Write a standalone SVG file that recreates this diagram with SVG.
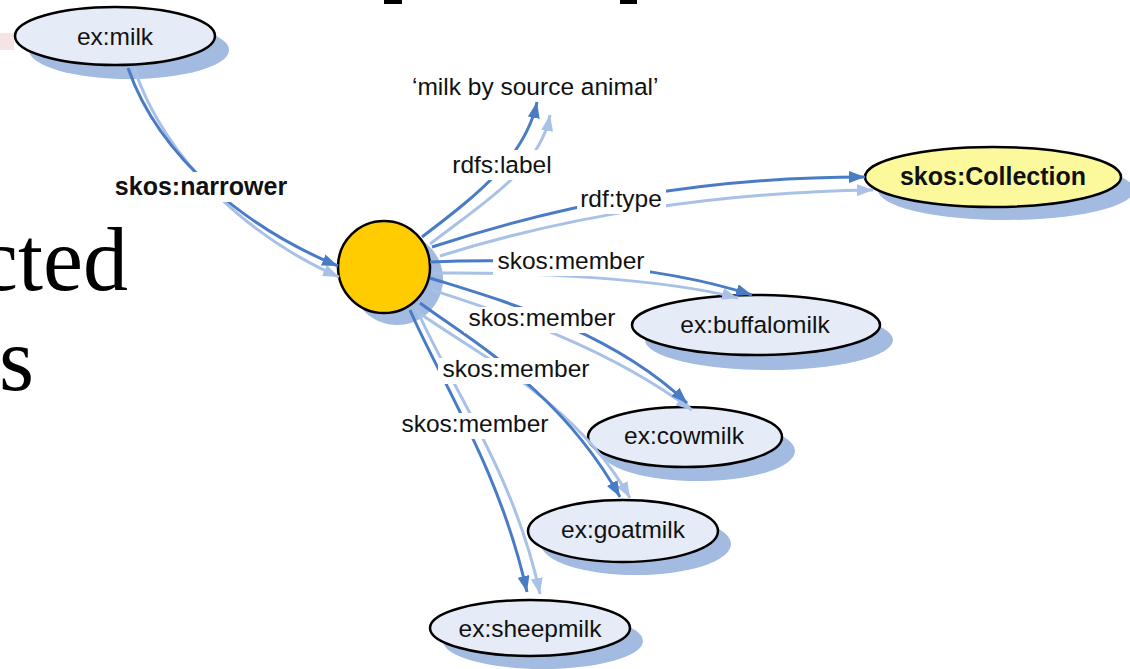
<svg xmlns="http://www.w3.org/2000/svg" width="1130" height="669" viewBox="0 0 1130 669">
<style>
.shadow{fill:#a3bbe0}
.node{fill:#e5ecf7;stroke:#000;stroke-width:2.5}
.lbl{font-family:"Liberation Sans",Arial,sans-serif;font-size:24.5px;fill:#111;text-anchor:middle}
.bold{font-weight:bold;font-size:25px}
.dk{fill:none;stroke:#4a7bc5;stroke-width:3;marker-end:url(#ad)}
.lt{fill:none;stroke:#a9c1e6;stroke-width:3;marker-end:url(#al)}
.bg{fill:#fff}
.ser{font-family:"Liberation Serif","DejaVu Serif",serif;font-size:90px;fill:#000;text-anchor:end}
</style>
<defs>
<marker id="ad" markerUnits="userSpaceOnUse" markerWidth="18" markerHeight="14" refX="16" refY="6" orient="auto"><path d="M0,0 L16,6 L0,12 z" fill="#4a7bc5"/></marker>
<marker id="al" markerUnits="userSpaceOnUse" markerWidth="18" markerHeight="14" refX="16" refY="6" orient="auto"><path d="M0,0 L16,6 L0,12 z" fill="#a9c1e6"/></marker>
</defs>
<rect width="1130" height="669" fill="#fff"/>
<g id="background">
<rect x="0" y="33" width="14" height="17" fill="#f6e4e4"/>
<rect x="384" y="0" width="18" height="4" fill="#000"/>
<rect x="620" y="0" width="17" height="4" fill="#000"/>
<text class="ser" x="128" y="290">cted</text>
<text class="ser" x="34" y="390">s</text>
</g>
<g id="n-milk">
<ellipse class="shadow" cx="129" cy="50" rx="100" ry="29"/>
<ellipse class="node" cx="115" cy="36" rx="100" ry="29"/>
<text class="lbl" x="115" y="45">ex:milk</text>
</g>
<g id="n-center">
<circle class="shadow" cx="397" cy="279" r="46"/>
<circle cx="384" cy="267" r="46" fill="#ffcc00" stroke="#000" stroke-width="2.5"/>
</g>
<g id="n-literal">
<text class="lbl" x="412" y="95" style="text-anchor:start">‘milk by source animal’</text>
</g>
<g id="n-collection">
<ellipse class="shadow" cx="1006" cy="190" rx="128" ry="30"/>
<ellipse cx="993" cy="177" rx="128" ry="30" fill="#fbf99c" stroke="#000" stroke-width="2.5"/>
<text class="lbl bold" x="993" y="185">skos:Collection</text>
</g>
<g id="n-buffalo">
<ellipse class="shadow" cx="769" cy="340" rx="124" ry="30"/>
<ellipse class="node" cx="756" cy="325" rx="124" ry="30"/>
<text class="lbl" x="755" y="333">ex:buffalomilk</text>
</g>
<g id="n-cow">
<ellipse class="shadow" cx="698" cy="451" rx="97" ry="30"/>
<ellipse class="node" cx="685" cy="437" rx="97" ry="30"/>
<text class="lbl" x="684" y="444">ex:cowmilk</text>
</g>
<g id="n-goat">
<ellipse class="shadow" cx="636" cy="544" rx="95" ry="31"/>
<ellipse class="node" cx="623" cy="531" rx="95" ry="31"/>
<text class="lbl" x="623" y="538">ex:goatmilk</text>
</g>
<g id="n-sheep">
<ellipse class="shadow" cx="543" cy="641" rx="100" ry="28"/>
<ellipse class="node" cx="530" cy="628" rx="100" ry="28"/>
<text class="lbl" x="530" y="637">ex:sheepmilk</text>
</g>
<g id="connectors">
<path class="lt" d="M134,68 C166,162 250,238 339,277"/>
<path class="dk" d="M128,68 C160,160 250,230 338,266"/>
<path class="lt" d="M430,244 C480,205 540,170 550,115"/>
<path class="dk" d="M422,237 C470,200 525,160 537,102"/>
<path class="lt" d="M440,256 C570,215 720,192 873,190"/>
<path class="dk" d="M432,247 C560,205 700,177 865,177"/>
<path class="lt" d="M433,273 C530,272 660,278 738,298"/>
<path class="dk" d="M430,262 C520,258 650,262 752,295"/>
<path class="lt" d="M432,290 C500,312 605,345 692,410"/>
<path class="dk" d="M430,278 C500,300 610,330 687,403"/>
<path class="lt" d="M415,310 C470,350 575,400 630,498"/>
<path class="dk" d="M420,303 C470,340 560,390 620,497"/>
<path class="lt" d="M418,312 C450,385 515,475 540,594"/>
<path class="dk" d="M410,310 C440,380 500,470 527,592"/>
<rect class="bg" x="112" y="172" width="180" height="30"/>
<text class="lbl bold" x="201" y="195">skos:narrower</text>
<rect class="bg" x="449" y="150" width="106" height="30"/>
<text class="lbl" x="502" y="173">rdfs:label</text>
<rect class="bg" x="577" y="186" width="89" height="28"/>
<text class="lbl" x="621" y="207">rdf:type</text>
<rect class="bg" x="493" y="250" width="157" height="26"/>
<text class="lbl" x="571" y="269">skos:member</text>
<rect class="bg" x="464" y="307" width="157" height="26"/>
<text class="lbl" x="542" y="326">skos:member</text>
<rect class="bg" x="438" y="358" width="157" height="26"/>
<text class="lbl" x="516" y="377">skos:member</text>
<rect class="bg" x="396" y="413" width="157" height="26"/>
<text class="lbl" x="475" y="432">skos:member</text>
</g>
</svg>
